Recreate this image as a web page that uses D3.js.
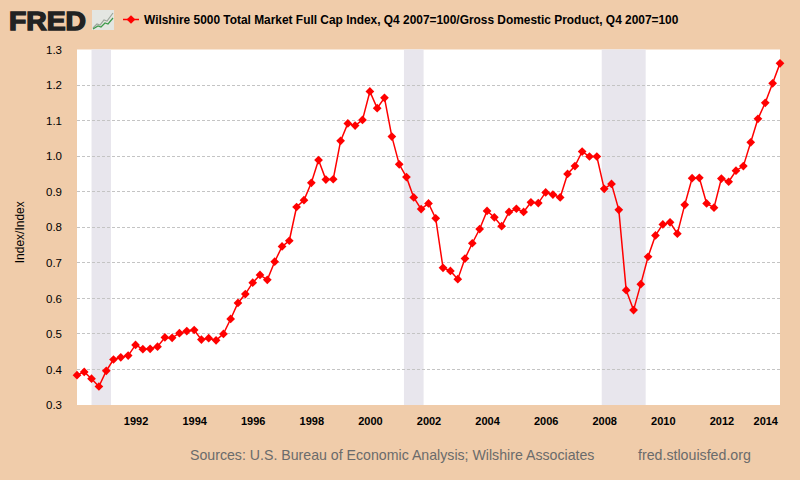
<!DOCTYPE html>
<html>
<head>
<meta charset="utf-8">
<script src="https://cdn.jsdelivr.net/npm/d3@7"></script>
<style>
  html, body { margin: 0; padding: 0; background: #f0ccaa; }
  svg { display: block; font-family: "Liberation Sans", Arial, sans-serif; }
</style>
</head>
<body>
<svg id="chart" width="800" height="480"></svg>
<script>
// ---- Data (quarterly, 1990 Q1 .. 2014 Q1) ----
const startYear = 1990;
const ratioValues = [
  0.384, 0.393, 0.374, 0.352,
  0.396, 0.428, 0.434, 0.439,
  0.469, 0.457, 0.458, 0.464,
  0.490, 0.489, 0.502, 0.508,
  0.511, 0.484, 0.488, 0.482,
  0.500, 0.542, 0.587, 0.612,
  0.644, 0.666, 0.652, 0.703,
  0.746, 0.762, 0.857, 0.876,
  0.925, 0.989, 0.934, 0.935,
  1.043, 1.092, 1.086, 1.102,
  1.182, 1.135, 1.164, 1.055,
  0.977, 0.941, 0.884, 0.851,
  0.867, 0.825, 0.686, 0.677,
  0.654, 0.712, 0.755, 0.795,
  0.846, 0.828, 0.803, 0.843,
  0.852, 0.843, 0.870, 0.868,
  0.898, 0.892, 0.884, 0.950,
  0.972, 1.013, 0.999, 0.999,
  0.908, 0.922, 0.849, 0.623,
  0.567, 0.640, 0.717, 0.777,
  0.808, 0.814, 0.782, 0.863,
  0.938, 0.939, 0.867, 0.855,
  0.937, 0.928, 0.959, 0.972,
  1.039, 1.105, 1.150, 1.205,
  1.261
];
const recessionStarts = ["1990-07-01", "2001-03-01", "2007-12-01"];
const recessionEnds   = ["1991-03-01", "2001-11-01", "2009-06-01"];
const yTicks = [0.3, 0.4, 0.5, 0.6, 0.7, 0.8, 0.9, 1.0, 1.1, 1.2, 1.3];
const xTickYears = [1992, 1994, 1996, 1998, 2000, 2002, 2004, 2006, 2008, 2010, 2012, 2014];
const titleText = "Wilshire 5000 Total Market Full Cap Index, Q4 2007=100/Gross Domestic Product, Q4 2007=100";
const yLabel = "Index/Index";
const sourceText = "Sources: U.S. Bureau of Economic Analysis; Wilshire Associates";
const siteText = "fred.stlouisfed.org";

const data = ratioValues.map((v, i) => ({
  date: new Date(startYear + Math.floor(i / 4), (i % 4) * 3, 1),
  value: v
}));

// ---- Layout ----
const svg = d3.select("#chart");
const L = 77, R = 780, T = 49.5, B = 405;

const x = d3.scaleTime()
  .domain([new Date(1990, 0, 1), new Date(2014, 0, 1)])
  .range([L, R]);
const y = d3.scaleLinear().domain([0.3, 1.3]).range([B, T]);

// background
svg.append("rect").attr("x", 0).attr("y", 0).attr("width", 800).attr("height", 480).attr("fill", "#f0ccaa");
svg.append("rect").attr("x", L).attr("y", T).attr("width", R - L).attr("height", B - T).attr("fill", "#ffffff");

// recession bands
const parse = d3.timeParse("%Y-%m-%d");
svg.append("g").selectAll("rect")
  .data(recessionStarts.map((s, i) => [parse(s), parse(recessionEnds[i])]))
  .join("rect")
  .attr("x", d => x(d[0]))
  .attr("y", T)
  .attr("width", d => x(d[1]) - x(d[0]))
  .attr("height", B - T)
  .attr("fill", "#e8e6ed");

// gridlines
svg.append("g").selectAll("line")
  .data(yTicks.filter(t => t > 0.35 && t < 1.25))
  .join("line")
  .attr("x1", L).attr("x2", R)
  .attr("y1", d => y(d)).attr("y2", d => y(d))
  .attr("stroke", "#c4c4c4")
  .attr("stroke-width", 1)
  .attr("stroke-dasharray", "3,2")
  .attr("shape-rendering", "crispEdges");

// y axis
const yAxis = svg.append("g")
  .attr("transform", `translate(${L},0)`)
  .call(d3.axisLeft(y).tickValues(yTicks).tickFormat(d3.format(".1f")).tickSize(0).tickPadding(15));
yAxis.select(".domain").remove();
yAxis.selectAll("text").attr("font-size", 11.5).attr("fill", "#000")
  .attr("font-family", "'Liberation Sans', Arial, sans-serif");

// x axis
const xAxis = svg.append("g")
  .attr("transform", `translate(0,${B})`)
  .call(d3.axisBottom(x).tickValues(xTickYears.map(yr => new Date(yr, 0, 1)))
    .tickFormat(d3.timeFormat("%Y")).tickSize(0).tickPadding(12));
xAxis.select(".domain").remove();
xAxis.selectAll("text").attr("font-size", 11).attr("font-weight", "bold").attr("fill", "#000")
  .attr("font-family", "'Liberation Sans', Arial, sans-serif");
// keep last label inside the plot
xAxis.selectAll(".tick").each(function() {
  const t = d3.select(this).select("text");
  const w = this.querySelector("text").getComputedTextLength();
  const tr = d3.select(this).attr("transform");
  const tx = +tr.match(/translate\(([-\d.]+)/)[1];
  if (tx + w / 2 > R - 2) t.attr("text-anchor", "end").attr("x", (R - 2) - tx);
});

// y label
svg.append("text")
  .attr("transform", `translate(24,${(T + B) / 2 + 5}) rotate(-90)`)
  .attr("text-anchor", "middle")
  .attr("font-size", 12)
  .attr("fill", "#000")
  .text(yLabel);

// line
svg.append("path")
  .datum(data)
  .attr("fill", "none")
  .attr("stroke", "#ff0000")
  .attr("stroke-width", 1.5)
  .attr("d", d3.line().x(d => x(d.date)).y(d => y(d.value)));

// markers
const diamond = d3.symbol().type(d3.symbolSquare).size(38);
svg.append("g").selectAll("path")
  .data(data)
  .join("path")
  .attr("d", diamond)
  .attr("transform", d => `translate(${x(d.date)},${y(d.value)}) rotate(45)`)
  .attr("fill", "#ff0000");

// ---- Header: FRED logo + legend ----
svg.append("text")
  .attr("x", 9).attr("y", 30)
  .attr("font-size", 26).attr("font-weight", "bold")
  .attr("fill", "#222").attr("stroke", "#222").attr("stroke-width", 1.4)
  .attr("textLength", 77).attr("lengthAdjust", "spacingAndGlyphs")
  .text("FRED");
const icon = svg.append("g").attr("transform", "translate(92,10)");
icon.append("rect").attr("width", 22).attr("height", 20).attr("fill", "#e4e6e2");
icon.append("path").attr("d", "M1,18 L5,14 L8,15 L12,10 L15,11 L21,3")
  .attr("fill", "none").attr("stroke", "#9aa59a").attr("stroke-width", 1.2);
icon.append("path").attr("d", "M1,19 L6,16 L9,17 L13,13 L16,14 L21,8")
  .attr("fill", "none").attr("stroke", "#3c9a4a").attr("stroke-width", 1.2);

svg.append("line").attr("x1", 123).attr("x2", 139).attr("y1", 19.5).attr("y2", 19.5)
  .attr("stroke", "#ff0000").attr("stroke-width", 1.5);
svg.append("path").attr("d", diamond)
  .attr("transform", "translate(131,19.5) rotate(45)").attr("fill", "#ff0000");

const title = svg.append("text")
  .attr("x", 144).attr("y", 24)
  .attr("font-size", 13).attr("font-weight", "bold").attr("fill", "#000")
  .text(titleText);
const tw = title.node().getComputedTextLength();
title.attr("font-size", 13 * 535 / tw);

// ---- Footer ----
const src = svg.append("text")
  .attr("x", 190).attr("y", 460)
  .attr("font-size", 14).attr("fill", "#6b6b6b")
  .text(sourceText);
src.attr("font-size", 14 * 405 / src.node().getComputedTextLength());
const site = svg.append("text")
  .attr("x", 638).attr("y", 460)
  .attr("font-size", 14).attr("fill", "#6b6b6b")
  .text(siteText);
site.attr("font-size", 14 * 113 / site.node().getComputedTextLength());
</script>
</body>
</html>
